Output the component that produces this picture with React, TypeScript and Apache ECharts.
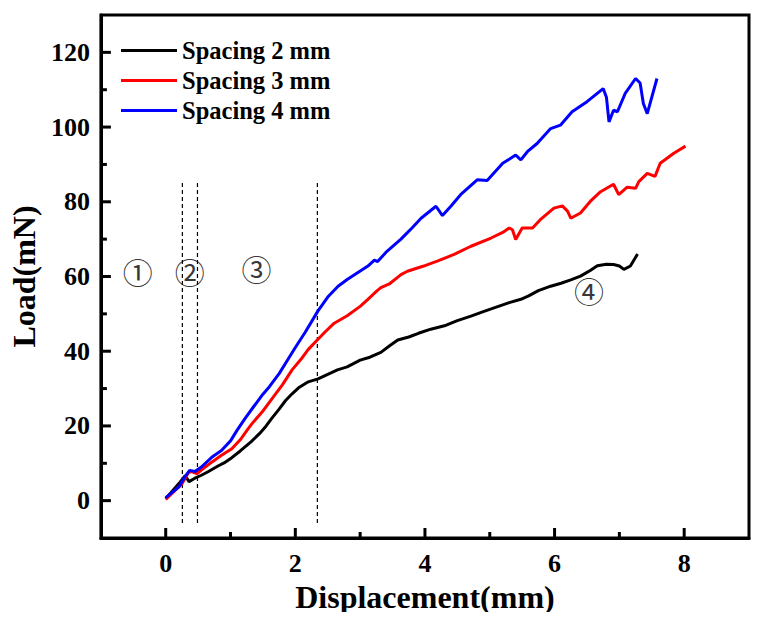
import React, { useEffect, useRef } from "react";
import * as echarts from "echarts";

const seriesNames = ["Spacing 2 mm", "Spacing 3 mm", "Spacing 4 mm"];
const seriesColors = ["#000000", "#ff0000", "#0000ff"];

const spacing2: number[][] = [
  [0, 0.5], [0.1, 2.5], [0.2, 4.5], [0.3, 6.7], [0.36, 5.1], [0.45, 6], [0.55, 6.8], [0.66, 7.8],
  [0.8, 9.2], [0.9, 10.1], [1.02, 11.5], [1.15, 13.3], [1.32, 15.8], [1.45, 18], [1.55, 20],
  [1.63, 21.9], [1.75, 24.5], [1.85, 26.8], [1.95, 28.6], [2.05, 30.2], [2.2, 31.8], [2.35, 32.6],
  [2.5, 33.8], [2.65, 35], [2.8, 35.8], [3.0, 37.6], [3.15, 38.4], [3.32, 39.7], [3.45, 41.4],
  [3.58, 43], [3.75, 43.8], [3.9, 44.8], [4.09, 45.9], [4.3, 46.8], [4.5, 48.2], [4.71, 49.4],
  [4.9, 50.6], [5.1, 51.8], [5.3, 53], [5.48, 53.9], [5.6, 54.8], [5.75, 56.2], [5.94, 57.4],
  [6.1, 58.2], [6.25, 59.1], [6.4, 60.1], [6.55, 61.6], [6.66, 62.9], [6.8, 63.3], [6.91, 63.2],
  [7.0, 62.8], [7.07, 61.9], [7.17, 62.8], [7.28, 66],
];

const spacing3: number[][] = [
  [0, 0.3], [0.1, 2], [0.25, 4.5], [0.35, 7.5], [0.4, 7.8], [0.48, 7.2], [0.55, 8.2], [0.71, 10.3],
  [0.85, 12], [1.02, 13.9], [1.15, 16.3], [1.27, 19.2], [1.35, 21], [1.5, 24], [1.65, 27.5],
  [1.8, 31], [1.95, 35], [2.09, 37.9], [2.2, 40.5], [2.35, 43.2], [2.45, 45], [2.6, 47.5],
  [2.8, 49.5], [3.0, 52], [3.12, 53.9], [3.25, 56], [3.32, 57], [3.45, 58], [3.63, 60.5],
  [3.73, 61.4], [3.98, 62.8], [4.2, 64.2], [4.45, 65.9], [4.71, 68.1], [5.02, 70.3], [5.2, 71.8],
  [5.3, 73], [5.35, 72.5], [5.4, 69.9], [5.5, 73], [5.66, 73], [5.78, 75.2], [5.99, 78.3],
  [6.12, 78.9], [6.2, 77.5], [6.25, 75.6], [6.4, 77], [6.55, 80.1], [6.71, 82.7], [6.91, 84.7],
  [6.99, 81.9], [7.12, 83.9], [7.25, 83.6], [7.3, 85.4], [7.43, 87.6], [7.55, 86.8], [7.63, 90.3],
  [7.84, 93], [8.02, 94.9],
];

const spacing4: number[][] = [
  [0, 0.8], [0.1, 2.2], [0.2, 3.6], [0.3, 6.5], [0.37, 8.1], [0.45, 7.8], [0.55, 9], [0.71, 11.6],
  [0.86, 13.4], [1.0, 16], [1.1, 18.8], [1.22, 21.9], [1.35, 25], [1.5, 28.5], [1.6, 30.5],
  [1.75, 34], [1.89, 37.9], [2.0, 41], [2.15, 45], [2.35, 50.8], [2.5, 54.5], [2.66, 57.4],
  [2.8, 59.2], [2.96, 61], [3.12, 62.8], [3.22, 64.4], [3.27, 64], [3.4, 66.5], [3.63, 70],
  [3.8, 73], [3.94, 75.6], [4.17, 78.8], [4.27, 76.3], [4.4, 78.8], [4.55, 81.9], [4.81, 85.9],
  [4.96, 85.7], [5.2, 90.3], [5.4, 92.5], [5.48, 91.2], [5.58, 93.4], [5.73, 95.6], [5.94, 99.6],
  [6.09, 100.5], [6.27, 104.1], [6.5, 106.8], [6.75, 110.3], [6.8, 108], [6.84, 101.4],
  [6.91, 104.5], [6.97, 104.1], [7.09, 109], [7.25, 113], [7.32, 111.8], [7.37, 106.3],
  [7.43, 103.6], [7.58, 113],
];

const dividerX = [0.257, 0.49, 2.34];
const dividerYRange = [-6, 85];

const regionLabels = ["①", "②", "③", "④"];
const regionX = [-0.43, 0.37, 1.4, 6.53];
const regionY = [61.6, 61.6, 62.3, 56.3];

const xMajorTicks = [0, 2, 4, 6, 8];
const xMinorTicks = [1, 3, 5, 7];
const yMajorTicks = [0, 20, 40, 60, 80, 100, 120];
const yMinorTicks = [10, 30, 50, 70, 90, 110];

const xRange = [-1, 9];
const yRange = [-10, 130];

const SERIF = "'Liberation Serif', 'Times New Roman', serif";

export default function App() {
  const ref = useRef<HTMLDivElement>(null);

  useEffect(() => {
    if (!ref.current) return;
    const chart = echarts.init(ref.current, undefined, { renderer: "svg" });

    const tickLabelStyle = {
      fontFamily: SERIF,
      fontWeight: "bold" as const,
      fontSize: 26,
      color: "#000",
    };

    const axisLine = { show: true, onZero: false, lineStyle: { color: "#000", width: 3 } };

    const lineSeries = [spacing2, spacing3, spacing4].map((d, i) => ({
      name: seriesNames[i],
      type: "line" as const,
      data: d,
      showSymbol: false,
      symbol: "none",
      lineStyle: { color: seriesColors[i], width: 3 },
      itemStyle: { color: seriesColors[i] },
      z: 3 + i,
    }));

    const dividerSeries = dividerX.map((x, i) => ({
      name: "divider" + i,
      type: "line" as const,
      data: [
        [x, dividerYRange[0]],
        [x, dividerYRange[1]],
      ],
      symbol: "none",
      lineStyle: { color: "#000", width: 1.2, type: [4, 3] as any },
      z: 2,
      silent: true,
    }));

    const labelSeries = {
      name: "regions",
      type: "scatter" as const,
      data: regionLabels.map((l, i) => [regionX[i], regionY[i], l]),
      symbolSize: 2,
      itemStyle: { color: "rgba(0,0,0,0)" },
      label: {
        show: true,
        position: "inside" as const,
        formatter: (p: any) => p.data[2],
        fontSize: 30,
        color: "#000",
        fontFamily: "'Noto Sans CJK SC', sans-serif",
      },
      z: 10,
      silent: true,
    };

    chart.setOption({
      animation: false,
      backgroundColor: "#fff",
      grid: {
        left: 99,
        right: 12,
        top: 15,
        bottom: 82,
        show: true,
        borderColor: "#000",
        borderWidth: 3,
        backgroundColor: "transparent",
      },
      legend: {
        data: seriesNames,
        orient: "vertical",
        left: 116,
        top: 33,
        itemWidth: 56,
        itemHeight: 3,
        itemGap: 5,
        icon: "rect",
        selectedMode: false,
        textStyle: {
          fontFamily: SERIF,
          fontWeight: "bold",
          fontSize: 24.5,
          lineHeight: 25,
          color: "#000",
        },
      },
      xAxis: {
        type: "value",
        min: xRange[0],
        max: xRange[1],
        splitLine: { show: false },
        axisLine,
        name: "Displacement(mm)",
        nameLocation: "middle",
        nameGap: 38,
        nameTextStyle: { fontFamily: SERIF, fontWeight: "bold", fontSize: 32, color: "#000" },
        axisTick: { show: false },
        axisLabel: { ...tickLabelStyle, margin: 12, customValues: xMajorTicks },
      },
      yAxis: {
        type: "value",
        min: yRange[0],
        max: yRange[1],
        splitLine: { show: false },
        axisLine,
        name: "Load(mN)",
        nameLocation: "middle",
        nameGap: 53,
        nameTextStyle: { fontFamily: SERIF, fontWeight: "bold", fontSize: 32, color: "#000" },
        axisTick: { show: false },
        axisLabel: { ...tickLabelStyle, margin: 11, customValues: yMajorTicks },
      },
      series: [...dividerSeries, ...lineSeries, labelSeries],
    });

    // Inward axis ticks, positioned through the axes' own scales
    const left = chart.convertToPixel({ xAxisIndex: 0 }, xRange[0]) as number;
    const bottom = chart.convertToPixel({ yAxisIndex: 0 }, yRange[0]) as number;
    const tickStyle = { stroke: "#000", lineWidth: 3 };
    const ticks: any[] = [];
    const addX = (vals: number[], len: number) =>
      vals.forEach((v) => {
        const px = chart.convertToPixel({ xAxisIndex: 0 }, v) as number;
        ticks.push({
          type: "line",
          shape: { x1: px, y1: bottom, x2: px, y2: bottom - len },
          style: tickStyle,
          silent: true,
          z: 20,
        });
      });
    const addY = (vals: number[], len: number) =>
      vals.forEach((v) => {
        const py = chart.convertToPixel({ yAxisIndex: 0 }, v) as number;
        ticks.push({
          type: "line",
          shape: { x1: left, y1: py, x2: left + len, y2: py },
          style: tickStyle,
          silent: true,
          z: 20,
        });
      });
    addX(xMajorTicks, 10);
    addX(xMinorTicks, 6);
    addY(yMajorTicks, 10);
    addY(yMinorTicks, 6);
    chart.setOption({ graphic: ticks });

    return () => chart.dispose();
  }, []);

  return <div ref={ref} style={{ width: 761, height: 620, margin: -8 }} />;
}
